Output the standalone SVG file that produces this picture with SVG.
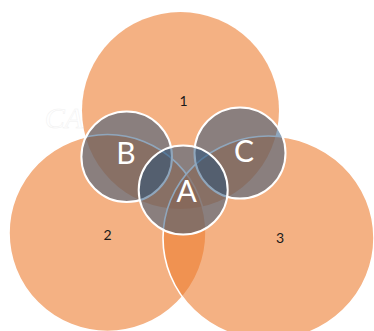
<svg xmlns="http://www.w3.org/2000/svg" width="374" height="331" viewBox="0 0 374 331">
<style>
.big{fill:#ED7D31;fill-opacity:0.6}
.edge{stroke:#ffffff;stroke-width:1.6}
.set{fill:#1F4E79;fill-opacity:0.5;stroke:#ffffff;stroke-width:2}
.num{font-family:Lato,"Liberation Sans",sans-serif;font-size:14px;fill:#1a1a1a;text-anchor:middle}
.let{font-family:Lato,"Liberation Sans",sans-serif;font-size:30px;fill:#ffffff;text-anchor:middle}
</style>
<rect width="374" height="331" fill="#ffffff"/>
<text x="64" y="128" font-family="Liberation Serif,serif" font-style="italic" font-size="30" fill="none" stroke="#f1f1f1" stroke-width="0.5" text-anchor="middle">CA</text>
<g id="n1">
<circle class="big" cx="180.5" cy="110.5" r="98.5"/>
</g>
<g id="n2">
<circle class="big edge" cx="107.5" cy="233" r="98.5"/>
</g>
<g id="n3">
<ellipse class="big edge" cx="268.5" cy="238" rx="105.5" ry="102"/>
</g>
<g id="nB">
<circle class="set" cx="126.7" cy="156.7" r="45.3"/>
</g>
<g id="nC">
<circle class="set" cx="240" cy="153" r="45.5"/>
</g>
<g id="nA">
<circle class="set" cx="183.2" cy="190" r="44.5"/>
</g>
<g id="connectors"/>
<g id="labels">
<text class="num" x="183.5" y="105.5">1</text>
<text class="num" x="107.5" y="240">2</text>
<text class="num" x="280" y="242.5">3</text>
<text class="let" x="126" y="163.5">B</text>
<text class="let" x="244" y="161.5">C</text>
<text class="let" x="186.7" y="201.7">A</text>
</g>
</svg>
